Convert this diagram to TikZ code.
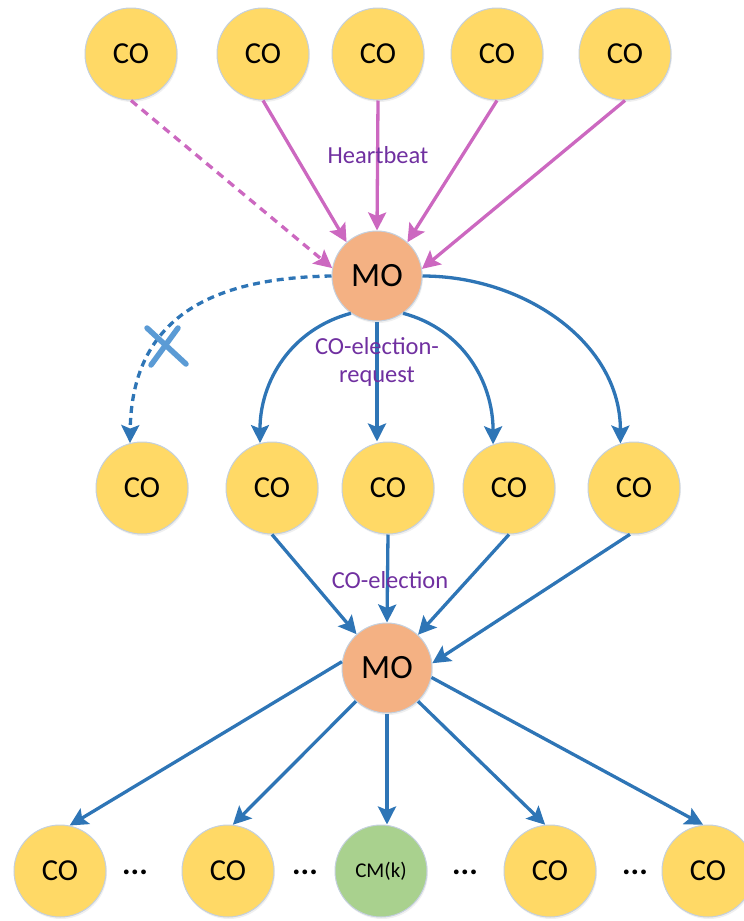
\documentclass[tikz,border=0pt]{standalone}
\usepackage{fontspec}
\setmainfont{Carlito}
\usetikzlibrary{arrows.meta,shadows}

\definecolor{coyellow}{HTML}{FFD966}
\definecolor{moorange}{HTML}{F4B183}
\definecolor{cmgreen}{HTML}{A9D18E}
\definecolor{nodeedge}{RGB}{196,208,222}
\definecolor{linkblue}{HTML}{2E75B6}
\definecolor{beatpink}{RGB}{204,104,192}
\definecolor{labelpurple}{HTML}{7030A0}
\definecolor{crossblue}{HTML}{5B9BD5}

\tikzset{
  agent/.style={circle, draw=nodeedge, line width=1pt, minimum size=92pt, inner sep=0pt,
    drop shadow={opacity=0.12, shadow xshift=1pt, shadow yshift=-2pt}},
  conode/.style={agent, fill=coyellow, font=\fontsize{30.5}{32}\selectfont},
  monode/.style={agent, fill=moorange, minimum size=90pt, font=\fontsize{34}{36}\selectfont},
  cmnode/.style={agent, fill=cmgreen, font=\fontsize{21}{22}\selectfont},
  beat/.style={draw=beatpink, line width=3.3pt, -{Stealth[length=18pt,width=18pt,inset=3.5pt]}},
  link/.style={draw=linkblue, line width=3.3pt, -{Stealth[length=18pt,width=18pt,inset=3.5pt]}},
  edgelabel/.style={text=labelpurple, font=\fontsize{24.5}{28}\selectfont, align=center, inner sep=0pt},
  ellipsis/.style={font=\bfseries\fontsize{32}{32}\selectfont},
}

\begin{document}
\begin{tikzpicture}[x=1pt,y=-1pt]
\useasboundingbox (0,0) rectangle (744,921);

% top row of COs sending heartbeats
\node[conode] (t1) at (131,54) {CO};
\node[conode] (t2) at (263,54) {CO};
\node[conode] (t3) at (378,54) {CO};
\node[conode] (t4) at (497,54) {CO};
\node[conode] (t5) at (625,54) {CO};

% first MO
\node[monode] (m1) at (377,276) {MO};

% middle row
\node[conode] (c1) at (142,488) {CO};
\node[conode] (c2) at (272,488) {CO};
\node[conode] (c3) at (388,488) {CO};
\node[conode] (c4) at (509,488) {CO};
\node[conode] (c5) at (634,488) {CO};

% second MO
\node[monode] (m2) at (387,668) {MO};

% bottom row
\node[conode] (b1) at (60,871) {CO};
\node[conode] (b2) at (228,871) {CO};
\node[cmnode] (b3) at (381,871) {CM(k)};
\node[conode] (b4) at (550,871) {CO};
\node[conode] (b5) at (708,871) {CO};

\node[ellipsis] (d1) at (135,872) {...};
\node[ellipsis] (d2) at (305,872) {...};
\node[ellipsis] (d3) at (465,872) {...};
\node[ellipsis] (d4) at (635,872) {...};

% heartbeats
\draw[beat, dash pattern=on 8pt off 6pt] (t1.-90) -- (m1.170);
\draw[beat] (t2.-90) -- (m1.132);
\draw[beat] (t3.south) -- (m1.north);
\draw[beat] (t4.-90) -- (m1.48);
\draw[beat] (t5.-90) -- (m1.9);
\node[edgelabel] (hb) at (378,155) {Heartbeat};

% election requests
\coordinate (cut) at (166,346);
\draw[link, dash pattern=on 7pt off 5pt] (m1.west) .. controls (205,278) and (132,322) .. (c1.105);
\draw[link] (m1.235) to[out=195,in=90] (c2.105);
\draw[link] (m1.south) -- (c3.north -| m1.south);
\draw[link] (m1.-55) to[out=-15,in=90] (c4.110);
\draw[link] (m1.east) to[out=0,in=90] (c5.107);
\node[edgelabel] (req) at (377,362) {CO-election-\\request};

% broken request
\draw[crossblue, line width=5.5pt, line cap=round]
  ([shift={(-19,-18)}]cut) -- ([shift={(20,18)}]cut)
  ([shift={(12,-18)}]cut) -- ([shift={(-15,19)}]cut);

% elections
\draw[link] (c2.-90) -- (m2.132);
\draw[link] (c3.south) -- (m2.north);
\draw[link] (c4.-90) -- (m2.47);
\draw[link] (c5.-95) -- (m2.6);
\node[edgelabel] (el) at (390,580) {CO-election};

% assignments to the lower row
\draw[link] (m2.172) -- (b1.78);
\draw[link] (m2.227) -- (b2.84);
\draw[link] (m2.south) -- (b3.north -| m2.south);
\draw[link] (m2.-47) -- (b4.96);
\draw[link] (m2.-12) -- (b5.96);
\end{tikzpicture}
\end{document}
